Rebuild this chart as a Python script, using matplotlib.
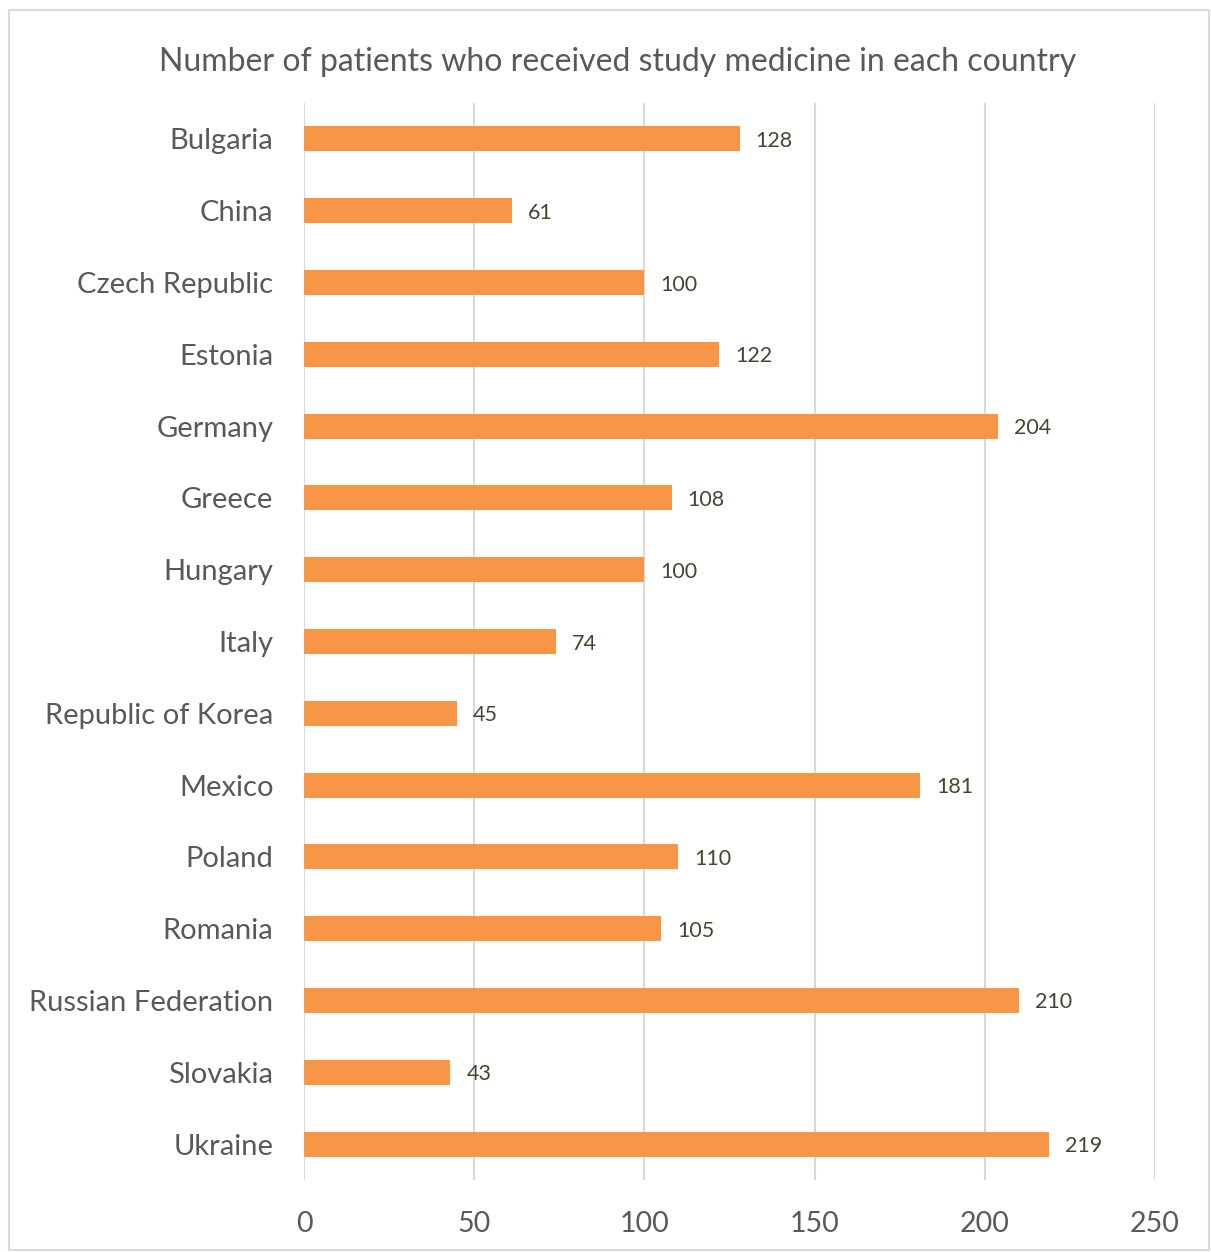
import matplotlib
matplotlib.use("Agg")
import matplotlib.pyplot as plt
from matplotlib.patches import Rectangle

countries = ["Bulgaria", "China", "Czech Republic", "Estonia", "Germany", "Greece",
             "Hungary", "Italy", "Republic of Korea", "Mexico", "Poland", "Romania",
             "Russian Federation", "Slovakia", "Ukraine"]
patients = [128, 61, 100, 122, 204, 108, 100, 74, 45, 181, 110, 105, 210, 43, 219]
x_ticks = [0, 50, 100, 150, 200, 250]
title = "Number of patients who received study medicine in each country"

plt.rcParams['font.family'] = ['Lato', 'DejaVu Sans']
W, H = 1211, 1252
fig = plt.figure(figsize=(W/100, H/100), dpi=100)
ax = fig.add_axes([304/W, 1 - 1180/H, (1155-304)/W, (1180-103)/H])

ypos = list(range(len(countries)))
bars = ax.barh(ypos, patients, height=0.35, color="#F79646", zorder=3)
for y, v in zip(ypos, patients):
    ax.annotate(str(v), (v, y), xytext=(16*0.72, -2*0.72), textcoords="offset points",
                va="center", ha="left", fontsize=15.5, color="#48452E")

ax.set_xlim(0, 250)
ax.set_ylim(len(countries) - 0.5, -0.5)
ax.set_xticks(x_ticks)
ax.set_yticks(ypos)
ax.set_yticklabels(countries)
ax.tick_params(axis='y', length=0, pad=22, labelsize=21, labelcolor="#595959")
ax.tick_params(axis='x', length=0, pad=22, labelsize=20.5, labelcolor="#595959")
ax.grid(axis='x', color="#D9D9D9", linewidth=1.5, zorder=0)
for s in ax.spines.values():
    s.set_visible(False)

fig.text(618/W, 1 - 62/H, title, ha="center", va="center", fontsize=23, color="#595959")
fig.patches.append(Rectangle((9/W, 2/H), 1200/W, 1 - 12/H, transform=fig.transFigure,
                             fill=False, edgecolor="#D9D9D9", linewidth=1.5))
fig.savefig("out.png", dpi=100)
